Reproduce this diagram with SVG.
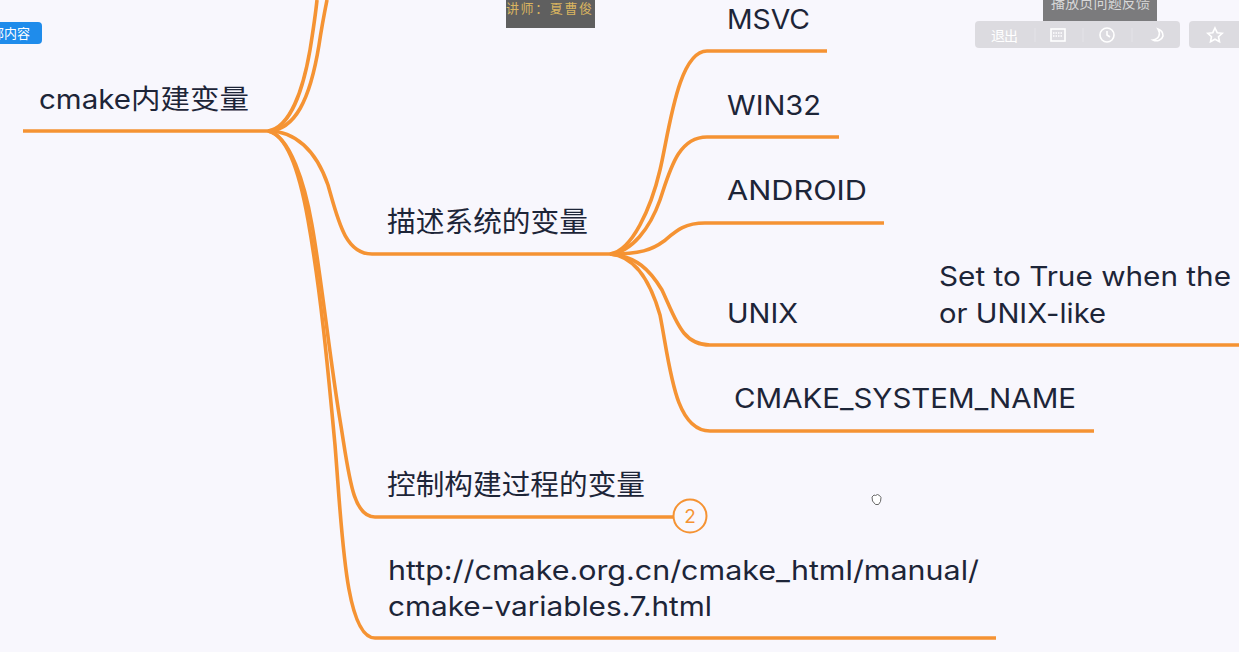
<svg xmlns="http://www.w3.org/2000/svg" width="1239" height="652" viewBox="0 0 1239 652">
<style>
.l{fill:none;stroke:#f59333;stroke-width:3.6;stroke-linecap:butt}
.t{font-family:Inter,"Noto Sans CJK SC",sans-serif;font-size:27px;fill:#1d2538}
.c{font-family:"Noto Sans CJK SC",sans-serif;font-size:28px}
.tb{fill:#fff;font-family:"Noto Sans CJK SC",sans-serif;font-size:14px}
.ic{fill:none;stroke:#fff;stroke-width:1.6}
.sep{stroke:#e4e3e8;stroke-width:1}
</style>
<rect width="1239" height="652" fill="#f8f7fd"/>
<g id="connectors">
<path class="l" d="M23 131H270"/>
<path class="l" d="M268 131C290 128 303 90 310 50C314 25 316 10 317 0"/>
<path class="l" d="M268 131C295 130 310 100 319 45C322 25 325 10 327 0"/>
<path class="l" d="M268 131C295 131 316 150 328 185C338 220 345 254 372 254H610"/>
<path class="l" d="M268 131C290 135 305 185 312 225C321 275 330 360 340 420C349 474 352 517 375 517H675"/>
<path class="l" d="M268 131C288 135 300 175 308 220C321 293 328 370 335 445C342 530 345 638 375 638H996"/>
<path class="l" d="M610 254C632 251 651 208 660 170C669 132 678 51 707 51H827"/>
<path class="l" d="M610 254C632 252 650 228 660 200C670 170 678 137 707 137H839"/>
<path class="l" d="M610 254C640 254 652 250 664 241C676 231 684 223 705 223H884"/>
<path class="l" d="M610 254C636 256 650 270 662 290C676 320 682 345 710 345H1239"/>
<path class="l" d="M610 254C635 256 650 280 660 315C670 365 674 431 710 431H1094"/>
</g>
<g id="node-root"><text class="t" x="39" y="109" textLength="210" lengthAdjust="spacingAndGlyphs">cmake内建变量</text></g>
<g id="node-system"><text class="t c" x="387" y="232" textLength="201" lengthAdjust="spacingAndGlyphs">描述系统的变量</text></g>
<g id="node-msvc"><text class="t" x="727" y="29" textLength="83" lengthAdjust="spacingAndGlyphs">MSVC</text></g>
<g id="node-win32"><text class="t" x="727" y="115" textLength="94" lengthAdjust="spacingAndGlyphs">WIN32</text></g>
<g id="node-android"><text class="t" x="727" y="200" textLength="140" lengthAdjust="spacingAndGlyphs">ANDROID</text></g>
<g id="node-unix"><text class="t" x="727" y="323" textLength="71" lengthAdjust="spacingAndGlyphs">UNIX</text></g>
<g id="node-unix-note"><text class="t" x="939" y="286" textLength="292" lengthAdjust="spacingAndGlyphs">Set to True when the</text><text class="t" x="939" y="323" textLength="167" lengthAdjust="spacingAndGlyphs">or UNIX-like</text></g>
<g id="node-sysname"><text class="t" x="734" y="408" textLength="342" lengthAdjust="spacingAndGlyphs">CMAKE_SYSTEM_NAME</text></g>
<g id="node-build"><text class="t c" x="387" y="495" textLength="258" lengthAdjust="spacingAndGlyphs">控制构建过程的变量</text>
<circle cx="690" cy="516" r="16.500" fill="#f8f7fd" stroke="#f59333" stroke-width="2"/>
<text x="690" y="523" text-anchor="middle" font-family="Inter,sans-serif" font-size="19" fill="#f59333">2</text></g>
<g id="node-link"><text class="t" x="388" y="580" textLength="591" lengthAdjust="spacingAndGlyphs">http://cmake.org.cn/cmake_html/manual/</text><text class="t" x="388" y="616" textLength="324" lengthAdjust="spacingAndGlyphs">cmake-variables.7.html</text></g>
<g id="overlay-blue"><rect x="-10" y="22" width="52" height="22" rx="4" fill="#1f8ceb"/><text x="-9" y="38" font-family="'Noto Sans CJK SC',sans-serif" font-size="13" fill="#fff">部内容</text></g>
<g id="overlay-teacher"><rect x="506" y="0" width="89" height="28" fill="#5f5f5f"/><text x="506" y="13" font-family="'Noto Sans CJK SC',sans-serif" font-size="13" fill="#d9b45f" textLength="86">讲师：夏曹俊</text></g>
<g id="overlay-feedback"><rect x="1043" y="0" width="114" height="21" fill="#7b7b7d"/><text x="1051" y="8" textLength="99" font-family="'Noto Sans CJK SC',sans-serif" font-size="14" fill="#d8d8d8">播放页问题反馈</text></g>
<g id="overlay-toolbar">
<rect x="975" y="21" width="205" height="27" rx="4" fill="#dcdbe0"/>
<rect x="1189" y="21" width="60" height="27" rx="4" fill="#dcdbe0"/>
<path class="sep" d="M1035 28v14M1083 28v14M1132 28v14"/>
<text x="991" y="41" class="tb" textLength="27">退出</text>
<rect x="1051" y="29" width="14" height="12" class="ic"/><path class="ic" d="M1053 33h10M1053 36h10" stroke-dasharray="1.500 1"/>
<circle cx="1107" cy="35" r="7" class="ic"/><path class="ic" d="M1107 31v4l3 2"/>
<path class="ic" d="M1158 29c3 5 1 10-5 11c4 2 9 0 10-4c0-3-2-6-5-7z"/>
<path class="ic" d="M1215 28l2.200 4.700 5 .6-3.700 3.400 1 5-4.500-2.500-4.500 2.500 1-5-3.700-3.400 5-.6z"/>
</g>
<g id="cursor"><path d="M872 497l2-2 1.500 .5 2-1 2 1 1.500 2-.5 4-2 3h-3l-3-3.500z" fill="#fff" stroke="#666" stroke-width="1"/></g>
</svg>
